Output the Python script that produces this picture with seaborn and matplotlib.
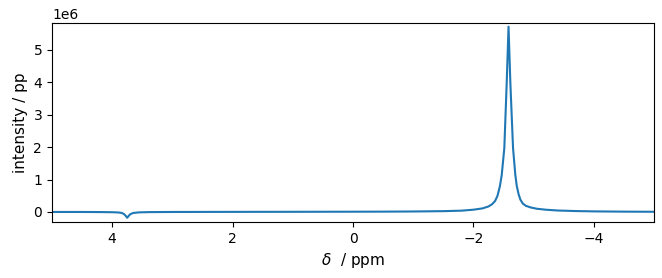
import matplotlib
matplotlib.use("Agg")
import matplotlib.pyplot as plt
import seaborn as sns
import pandas as pd

# chemical shift (ppm) and intensity (x1e6)
ppm = [5.0, 4.5, 4.2, 4.0, 3.9, 3.84, 3.8, 3.77, 3.75, 3.73, 3.70, 3.65, 3.55, 3.4,
       3.0, 2.0, 1.0, 0.0, -0.5, -1.0, -1.5, -1.8, -2.0, -2.15, -2.25, -2.31, -2.36,
       -2.40, -2.44, -2.47, -2.513, -2.553, -2.583, -2.613, -2.658, -2.696,
       -2.72, -2.75, -2.78, -2.82, -2.87, -2.95, -3.05, -3.2, -3.4, -3.7, -4.0, -4.5, -5.0]
intensity = [0.0, 0.0, -0.003, -0.008, -0.015, -0.03, -0.07, -0.13, -0.18, -0.13, -0.07,
             -0.03, -0.012, -0.005, 0.0, 0.003, 0.005, 0.008, 0.01, 0.015, 0.025, 0.04,
             0.07, 0.11, 0.17, 0.24, 0.34, 0.5, 0.8, 1.14, 1.97, 4.0, 5.72, 4.0, 1.97, 1.14,
             0.8, 0.55, 0.38, 0.26, 0.19, 0.14, 0.1, 0.07, 0.045, 0.028, 0.018, 0.01, 0.006]

df = pd.DataFrame({"ppm": ppm, "intensity": [v * 1e6 for v in intensity]})

fig = plt.figure(figsize=(6.62, 2.78), dpi=100)
ax = fig.add_axes([0.0785, 0.2014, 0.9095, 0.7156])
sns.lineplot(data=df, x="ppm", y="intensity", ax=ax, color="#1f77b4", linewidth=1.5)
ax.set_xlim(5, -5)
ax.set_ylim(-0.31e6, 5.83e6)
ax.set_xticks([4, 2, 0, -2, -4])
ax.set_xlabel(r"$\delta$  / ppm", fontsize=11)
ax.set_ylabel("intensity / pp", fontsize=11)
ax.tick_params(labelsize=10)
fig.savefig("out.png", dpi=100)
